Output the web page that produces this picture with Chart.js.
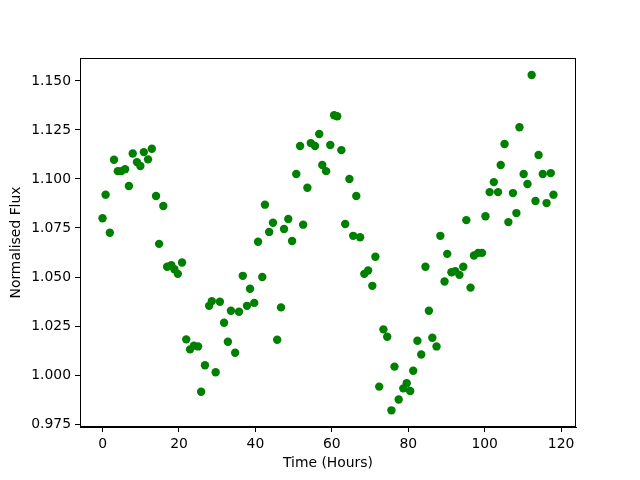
<!DOCTYPE html>
<html>
<head>
<meta charset="utf-8">
<script src="https://cdn.jsdelivr.net/npm/chart.js@4/dist/chart.umd.min.js"></script>
<style>
  html, body { margin: 0; padding: 0; background: #fff; }
</style>
</head>
<body>
<canvas id="myChart" width="640" height="480"></canvas>
<script>
// time of each sample (hours)
const hours = [
  0, 0.8, 1.9, 3.0, 4.0, 4.9, 5.9, 6.9, 7.9, 9.0,
  9.9, 10.8, 11.9, 12.9, 14.0, 14.8, 15.9, 16.9, 18.0, 18.8,
  19.7, 20.8, 21.9, 22.9, 23.9, 25.0, 25.8, 26.8, 27.9, 28.6,
  29.6, 30.7, 31.8, 32.8, 33.6, 34.7, 35.7, 36.7, 37.8, 38.6,
  39.7, 40.7, 41.8, 42.5, 43.6, 44.6, 45.7, 46.7, 47.5, 48.6,
  49.6, 50.7, 51.7, 52.5, 53.6, 54.5, 55.6, 56.7, 57.5, 58.5,
  59.6, 60.6, 61.4, 62.5, 63.5, 64.6, 65.6, 66.4, 67.4, 68.5,
  69.5, 70.6, 71.4, 72.4, 73.5, 74.5, 75.6, 76.4, 77.5, 78.7,
  79.6, 80.5, 81.3, 82.4, 83.4, 84.5, 85.4, 86.3, 87.4, 88.4,
  89.5, 90.2, 91.3, 92.3, 93.4, 94.4, 95.2, 96.3, 97.2, 98.3,
  99.3, 100.2, 101.3, 102.4, 103.5, 104.2, 105.2, 106.2, 107.4, 108.3,
  109.1, 110.2, 111.2, 112.3, 113.3, 114.1, 115.2, 116.2, 117.3, 118.0,
];

const flux = [
  1.0800, 1.0920, 1.0726, 1.1098, 1.1040, 1.1040, 1.1050, 1.0964, 1.1130, 1.1086,
  1.1066, 1.1137, 1.1100, 1.1154, 1.0913, 1.0669, 1.0862, 1.0552, 1.0560, 1.0540,
  1.0516, 1.0574, 1.0182, 1.0131, 1.0150, 1.0146, 0.9915, 1.0050, 1.0353, 1.0377,
  1.0014, 1.0374, 1.0267, 1.0170, 1.0328, 1.0114, 1.0323, 1.0506, 1.0353, 1.0440,
  1.0368, 1.0680, 1.0500, 1.0869, 1.0730, 1.0777, 1.0180, 1.0345, 1.0745, 1.0796,
  1.0684, 1.1025, 1.1168, 1.0767, 1.0955, 1.1183, 1.1168, 1.1229, 1.1071, 1.1040,
  1.1173, 1.1325, 1.1320, 1.1147, 1.0770, 1.1000, 1.0710, 1.0913, 1.0703, 1.0516,
  1.0533, 1.0455, 1.0603, 0.9941, 1.0233, 1.0195, 0.9820, 1.0043, 0.9875, 0.9932,
  0.9958, 0.9919, 1.0022, 1.0175, 1.0105, 1.0552, 1.0328, 1.0190, 1.0146, 1.0710,
  1.0477, 1.0618, 1.0524, 1.0530, 1.0511, 1.0552, 1.0790, 1.0446, 1.0610, 1.0623,
  1.0623, 1.0810, 1.0933, 1.0984, 1.0933, 1.1071, 1.1178, 1.0780, 1.0928, 1.0826,
  1.1264, 1.1025, 1.0974, 1.1530, 1.0888, 1.1122, 1.1025, 1.0877, 1.1030, 1.0920,
];

const xTicks = [0, 20, 40, 60, 80, 100, 120];
const yTicks = [0.975, 1.0, 1.025, 1.05, 1.075, 1.1, 1.125, 1.15];

const font = { family: "DejaVu Sans", size: 13.9 };

// matplotlib draws a full box round the axes
const frame = {
  id: "frame",
  afterDraw(chart) {
    const a = chart.chartArea;
    const c = chart.ctx;
    c.save();
    c.strokeStyle = "#000";
    c.lineWidth = 1;
    c.strokeRect(Math.round(a.left) + 0.5, Math.round(a.top) + 0.5,
      Math.round(a.right - a.left) - 1, Math.round(a.bottom - a.top) - 1);
    c.restore();
  },
};

const ctx = document.getElementById("myChart");
new Chart(ctx, {
  type: "scatter",
  data: {
    datasets: [
      {
        label: "Flux",
        data: hours.map((h, i) => ({ x: h, y: flux[i] })),
        backgroundColor: "#008000",
        borderColor: "#008000",
        borderWidth: 0,
        pointRadius: 4.2,
        pointHoverRadius: 4.2,
      },
    ],
  },
  options: {
    responsive: false,
    animation: false,
    devicePixelRatio: 1,
    layout: { padding: { left: 0, right: 64, top: 58, bottom: 0 } },
    plugins: {
      legend: { display: false },
      tooltip: { enabled: false },
    },
    scales: {
      x: {
        type: "linear",
        min: -5.9,
        max: 123.9,
        afterBuildTicks: (s) => { s.ticks = xTicks.map((v) => ({ value: v })); },
        afterFit: (s) => { s.height = 53; },
        grid: { drawOnChartArea: false, drawTicks: true, tickLength: 5, color: "#000" },
        border: { color: "#000" },
        ticks: { color: "#000", font: font, padding: 4, maxRotation: 0, callback: (v) => String(v) },
        title: { display: true, text: "Time (Hours)", color: "#000", font: font, padding: { top: 0, bottom: 8 } },
      },
      y: {
        type: "linear",
        min: 0.9735,
        max: 1.1617,
        afterBuildTicks: (s) => { s.ticks = yTicks.map((v) => ({ value: v })); },
        afterFit: (s) => { s.width = 80; },
        grid: { drawOnChartArea: false, drawTicks: true, tickLength: 5, color: "#000" },
        border: { color: "#000" },
        ticks: { color: "#000", font: font, padding: 4, callback: (v) => v.toFixed(3) },
        title: { display: true, text: "Normalised Flux", color: "#000", font: font, padding: { top: 8, bottom: 0 } },
      },
    },
  },
  plugins: [frame],
});
</script>
</body>
</html>
